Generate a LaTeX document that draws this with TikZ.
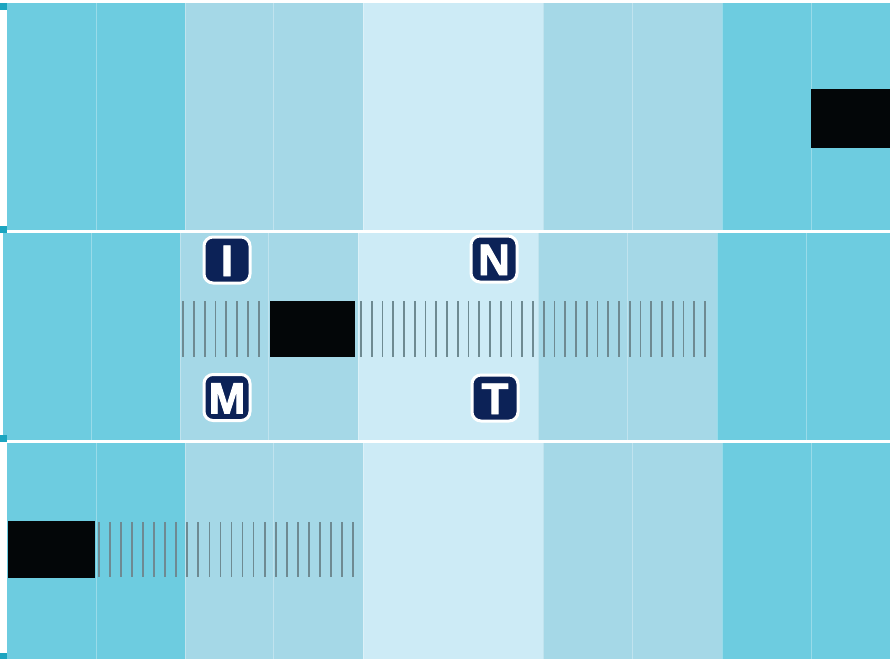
\documentclass[tikz,border=0pt]{standalone}
\usepackage{fontspec}
\setmainfont{Liberation Sans}
\newfontfamily\badgefont[FakeBold=2.2]{Liberation Sans Bold}
\definecolor{cdark}{HTML}{6DCCE0}
\definecolor{cmid}{HTML}{A5D8E7}
\definecolor{clight}{HTML}{CDEBF6}
\definecolor{cedge}{HTML}{1BA5C0}
\definecolor{navy}{HTML}{0C2257}
\definecolor{tickc}{HTML}{6E8A92}
\definecolor{barc}{HTML}{030608}
\tikzset{
  badge/.style={draw=white, line width=3pt, fill=navy, rounded corners=9pt,
    minimum width=46pt, minimum height=46pt, inner sep=0pt,
    text=white, font=\badgefont\fontsize{44}{44}\selectfont,
    text height=32pt, text depth=0pt},
  blackbar/.style={fill=barc},
  tickline/.style={draw=tickc, line width=1.8pt},
  colsep/.style={draw=white, opacity=0.3, line width=1pt},
  edgemark/.style={fill=cedge}
}
\begin{document}
\begin{tikzpicture}[x=1pt,y=-1pt]
\useasboundingbox (0,0) rectangle (890,659);
\fill[white] (0,0) rectangle (890,659);
% rows: top, bottom, x-offset, left start
\foreach \ya/\yb/\dx/\xs in {3/230/0/7, 233/440/-5/3, 443/659/0/7}{
  \foreach \xa/\xb/\c in {7/96/cdark, 96/185/cdark, 185/273/cmid, 273/363/cmid,
      363/543/clight, 543/632/cmid, 632/722/cmid,
      722/811/cdark, 811/900/cdark}{
    \fill[\c] ({max(\xs,\xa+\dx)},\ya) rectangle ({min(890,\xb+\dx)},\yb);
  }
  \foreach \xa in {96,185,273,363,543,632,722,811}{
    \draw[colsep] (\xa+\dx,\ya) -- (\xa+\dx,\yb);
  }
}
% left edge marks
\fill[edgemark] (0,3) rectangle (7,10);
\fill[edgemark] (0,226) rectangle (7,233);
\fill[edgemark] (0,435) rectangle (7,442);
\fill[edgemark] (0,653) rectangle (7,659);
% black bars
\fill[blackbar] (811,89) rectangle (890,148);
\fill[blackbar] (270,301) rectangle (355,357);
\fill[blackbar] (8,521) rectangle (95,578);
% ticks row 2
\foreach \k in {0,...,7}{ \draw[tickline] (183+10.8*\k,301) -- (183+10.8*\k,357); }
\foreach \k in {0,...,32}{ \draw[tickline] (361+10.75*\k,301) -- (361+10.75*\k,357); }
% ticks row 3
\foreach \k in {0,...,23}{ \draw[tickline] (99+11.04*\k,522) -- (99+11.04*\k,577); }
% badges
\node[badge] (bI) at (227,260) {I};
\node[badge] (bM) at (227,397.5) {M};
\node[badge] (bN) at (494,259) {N};
\node[badge] (bT) at (495,398) {T};
\end{tikzpicture}
\end{document}
